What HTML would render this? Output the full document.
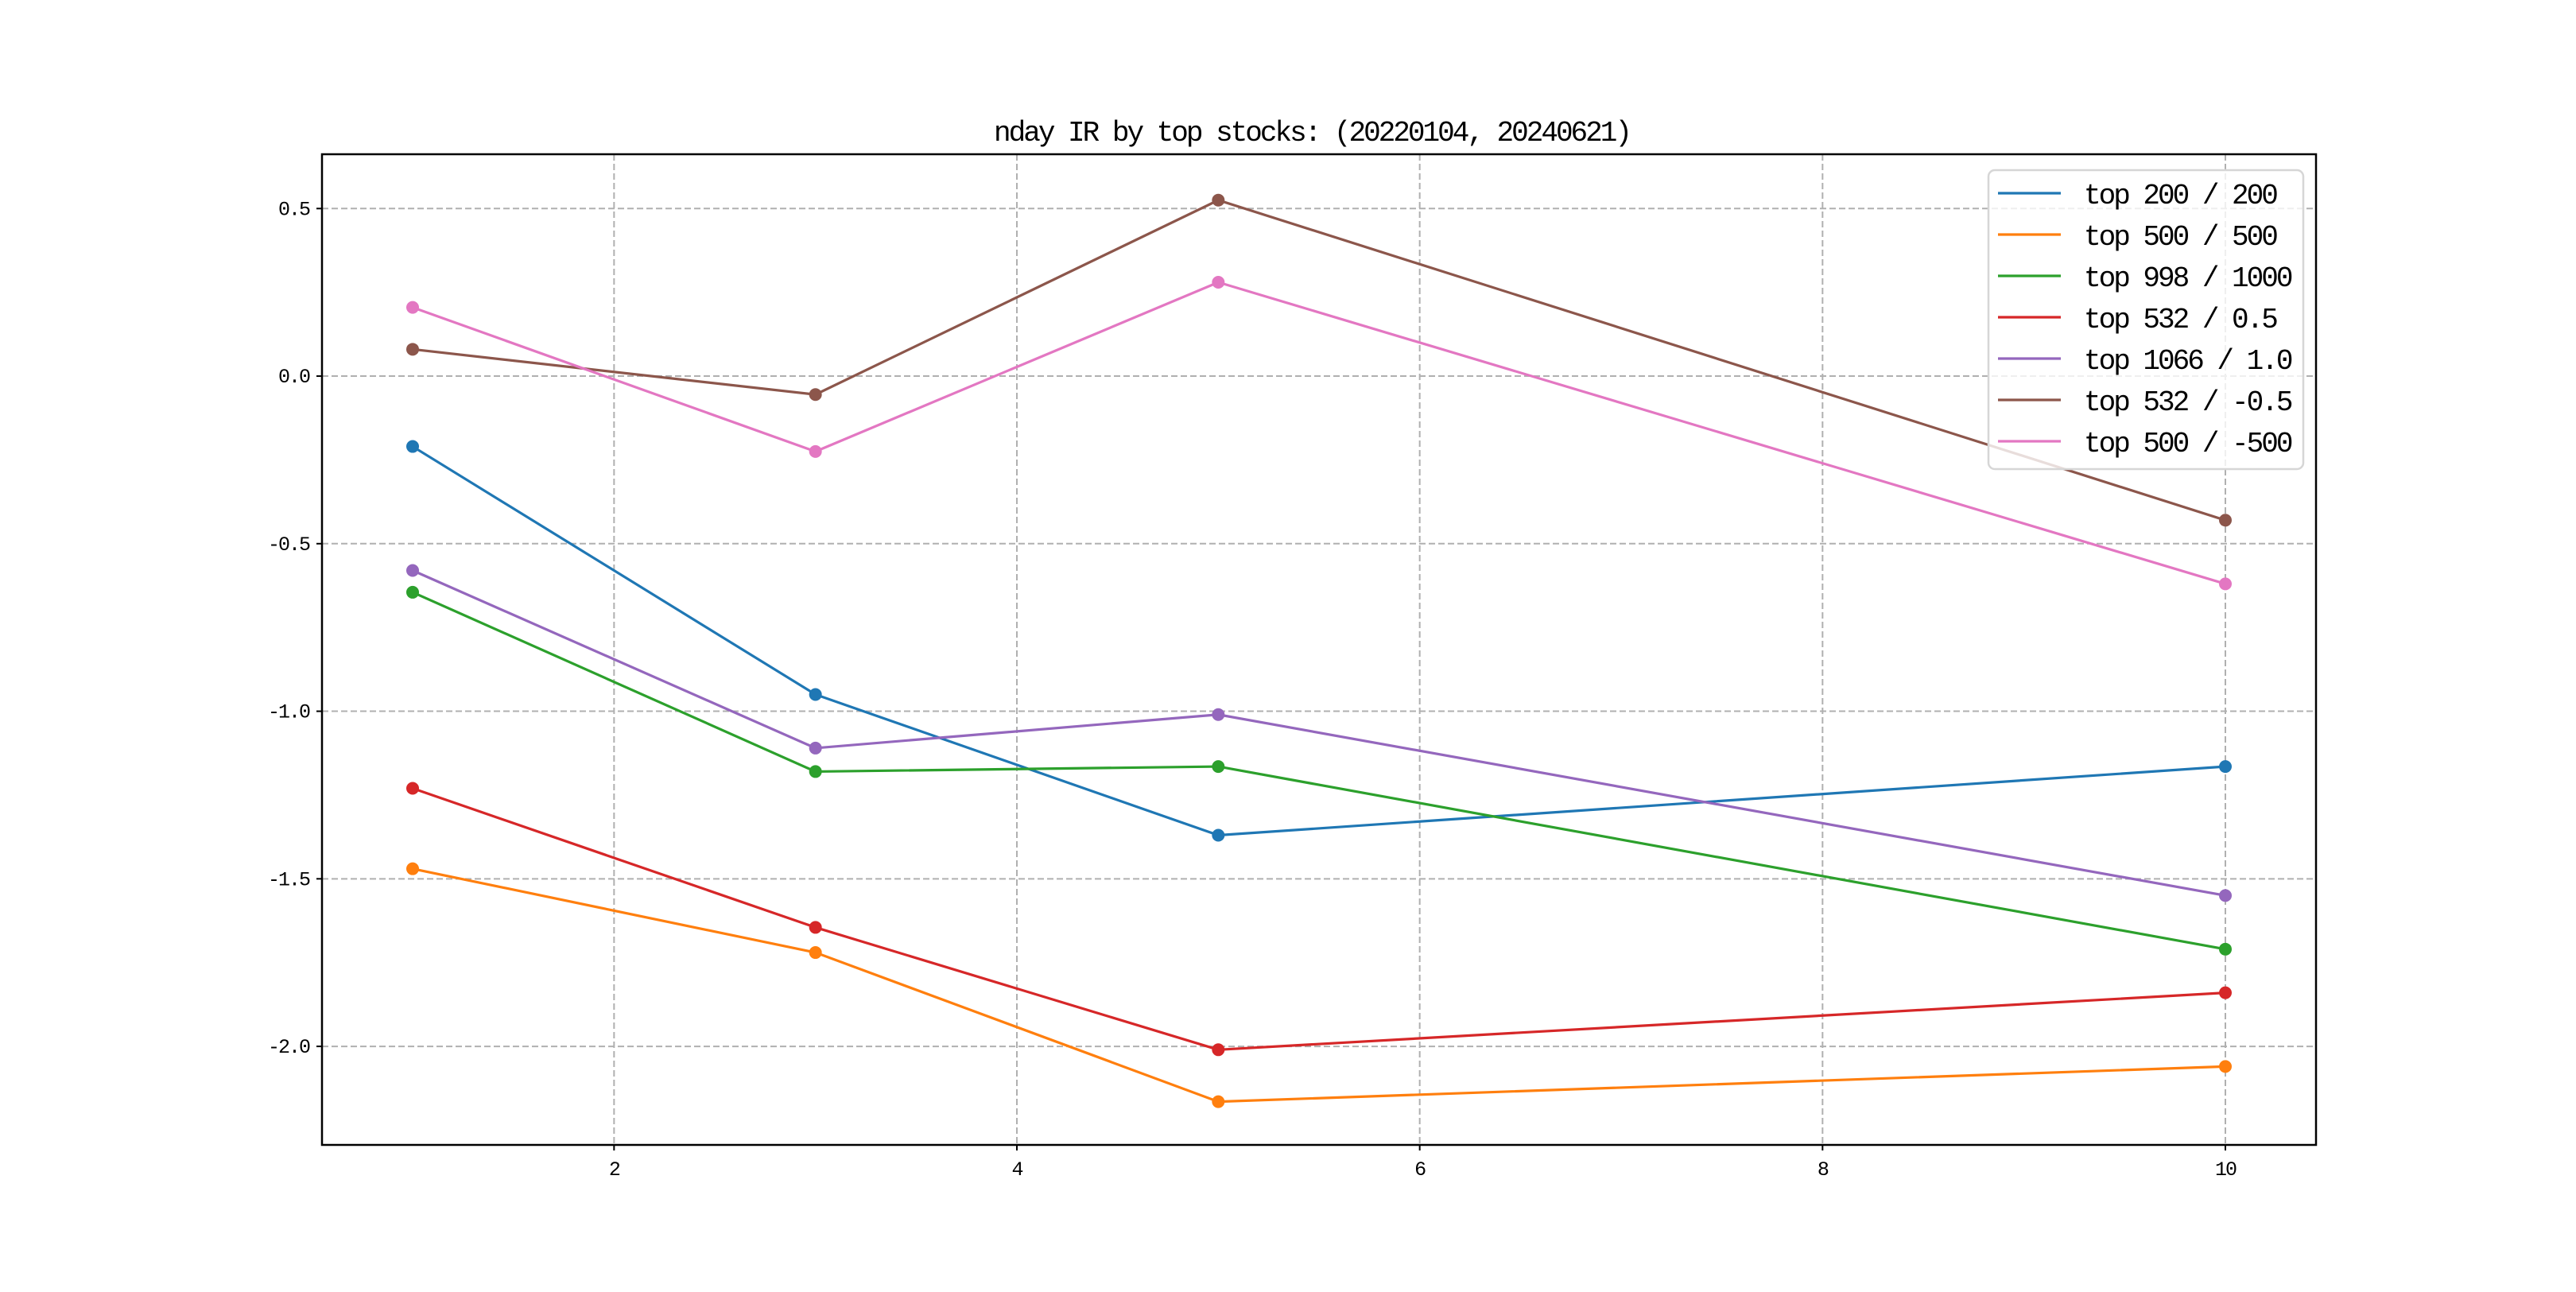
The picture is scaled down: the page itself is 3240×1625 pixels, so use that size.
<!DOCTYPE html>
<html><head><meta charset="utf-8"><style>
html,body{margin:0;padding:0;background:#fff}
svg text{font-family:"Liberation Mono","Noto Sans CJK SC",monospace}
</style></head><body>
<svg id="chart" width="3240" height="1620" xmlns="http://www.w3.org/2000/svg">
<rect width="3240" height="1620" fill="#fff"/>
<text x="1650" y="177" text-anchor="middle" font-size="36" letter-spacing="-3">nday IR by top stocks: (20220104, 20240621)</text>
<g id="grid"></g>
<g id="series"></g>
<rect x="405" y="194" width="2508" height="1246" fill="none" stroke="#000" stroke-width="2.5"/>
<g id="ticks"></g>
<g id="legend"></g>
</svg>
<script>
const xValues = [1, 3, 5, 10];
const seriesNames = ["top 200 / 200","top 500 / 500","top 998 / 1000","top 532 / 0.5","top 1066 / 1.0","top 532 / -0.5","top 500 / -500"];
const seriesColors = ["#1f77b4","#ff7f0e","#2ca02c","#d62728","#9467bd","#8c564b","#e377c2"];
const sTop200 = [-0.21, -0.95, -1.37, -1.165];
const sTop500 = [-1.47, -1.72, -2.165, -2.06];
const sTop998 = [-0.645, -1.18, -1.165, -1.71];
const sTop532 = [-1.23, -1.645, -2.01, -1.84];
const sTop1066 = [-0.58, -1.11, -1.01, -1.55];
const sTop532n = [0.08, -0.055, 0.525, -0.43];
const sTop500n = [0.205, -0.225, 0.28, -0.62];
const seriesValues = [sTop200, sTop500, sTop998, sTop532, sTop1066, sTop532n, sTop500n];
const xTicks = [2, 4, 6, 8, 10];
const yTicks = [0.5, 0.0, -0.5, -1.0, -1.5, -2.0];
const yTickLabels = ["0.5","0.0","-0.5","-1.0","-1.5","-2.0"];

const NS = "http://www.w3.org/2000/svg";
const L=405,R=2913,T=194,B=1440;
const xMin=0.55,xMax=10.45,yMin=-2.294,yMax=0.662;
function xs(v){return L+(v-xMin)/(xMax-xMin)*(R-L);}
function ys(v){return B-(v-yMin)/(yMax-yMin)*(B-T);}
function mk(tag,attrs,parent){const e=document.createElementNS(NS,tag);for(const k in attrs)e.setAttribute(k,attrs[k]);parent.appendChild(e);return e;}
const grid=document.getElementById('grid'),ticks=document.getElementById('ticks'),ser=document.getElementById('series'),leg=document.getElementById('legend');
xTicks.forEach(v=>{
  const x=xs(v);
  const g=mk('line',{x1:x,x2:x,y1:T,y2:B,stroke:'#b0b0b0','stroke-width':2,'stroke-dasharray':'8,4'},grid);
  
  
  const t=mk('line',{x1:x,x2:x,y1:B,y2:B+7,stroke:'#000','stroke-width':2},ticks);
  
  
  const lb=mk('text',{x:x,y:B+38,'text-anchor':'middle','font-size':25,'letter-spacing':-2},ticks);
  lb.textContent=String(v);
  
  
});
yTicks.forEach((v,i)=>{
  const y=ys(v);
  const g=mk('line',{x1:L,x2:R,y1:y,y2:y,stroke:'#b0b0b0','stroke-width':2,'stroke-dasharray':'8,4'},grid);
  
  
  const t=mk('line',{x1:L-7,x2:L,y1:y,y2:y,stroke:'#000','stroke-width':2},ticks);
  
  
  const lb=mk('text',{x:L-16,y:y+8,'text-anchor':'end','font-size':25,'letter-spacing':-2},ticks);
  lb.textContent=yTickLabels[i];
  
  
});
seriesValues.forEach((vals,si)=>{
  const g=mk('g',{},ser);
  
  
  const pts=vals.map((v,i)=>xs(xValues[i])+','+ys(v)).join(' ');
  const pl=mk('polyline',{points:pts,fill:'none',stroke:seriesColors[si],'stroke-width':3.2},g);
  
  
  vals.forEach((v,i)=>{
    const c=mk('circle',{cx:xs(xValues[i]),cy:ys(v),r:8,fill:seriesColors[si]},g);
    
    
  });
});
const box=mk('rect',{x:2501,y:214,width:396,height:376,rx:8,fill:'#fff','fill-opacity':0.8,stroke:'#d6d6d6','stroke-width':2.5},leg);


seriesNames.forEach((n,i)=>{
  const y=243+i*52;
  const g=mk('g',{},leg);
  
  
  mk('line',{x1:2513,x2:2592,y1:y,y2:y,stroke:seriesColors[i],'stroke-width':3.2},g);
  const t=mk('text',{x:2621,y:y+13,'font-size':36,'letter-spacing':-3},g);
  t.textContent=n;
  
  
});
</script>
</body></html>
